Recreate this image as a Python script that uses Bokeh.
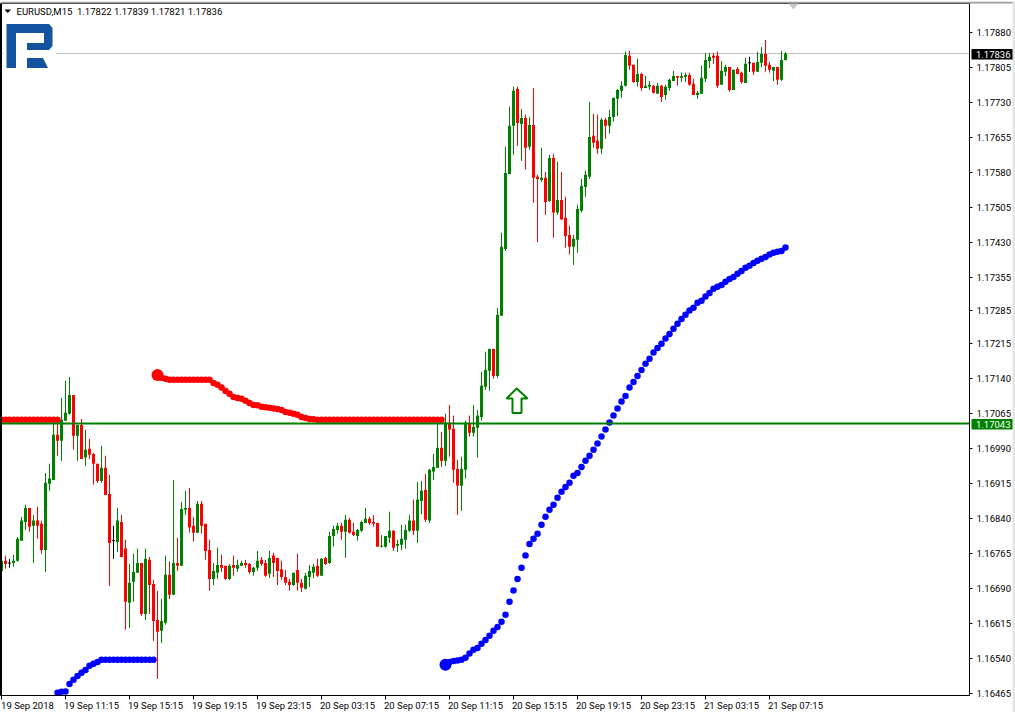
import numpy as np
from bokeh.plotting import figure
from bokeh.layouts import column
from bokeh.core.properties import value
from bokeh.models import (ColumnDataSource, Range1d, FixedTicker, Span, Label,
                          PolyAnnotation, PrintfTickFormatter)
from bokeh.embed import file_html
from bokeh.resources import INLINE

# Prices in points (1e-5)
opens = [116727,116749,116744,116744,116749,116792,116832,116862,116824,116835,
116828,116772,116914,116922,117019,117006,117049,117064,117104,117017,
117040,116970,116989,116978,116957,116920,116948,116892,116792,116789,
116832,116775,116659,116704,116723,116744,116635,116751,116699,116622,
116599,116616,116719,116676,116744,116738,116858,116862,116824,116809,
116871,116828,116772,116710,116723,116740,116738,116710,116740,116732,
116738,116744,116742,116725,116734,116751,116744,116721,116760,116755,
116731,116714,116704,116697,116729,116702,116689,116714,116723,116738,
116717,116755,116744,116802,116815,116824,116811,116837,116811,116802,
116813,116830,116839,116832,116830,116779,116779,116798,116813,116781,
116783,116794,116813,116835,116813,116877,116901,116835,116940,116948,
116991,116963,117045,117032,116946,116910,116944,117042,117023,117034,
117057,117122,117156,117203,117145,117274,117417,117578,117681,117760,
117685,117698,117636,117683,117572,117565,117570,117520,117612,117495,
117522,117484,117447,117422,117437,117499,117550,117572,117660,117649,
117632,117694,117681,117700,117739,117756,117767,117831,117812,117775,
117792,117762,117765,117767,117750,117767,117747,117762,117777,117788,
117784,117786,117790,117771,117747,117750,117782,117820,117831,117831,
117769,117797,117807,117758,117803,117795,117773,117816,117816,117797,
117816,117835,117812,117799,117807,117780,117822]
highs = [116770,116760,116753,116762,116800,116843,116869,116862,116847,116865,
116835,116937,116957,117045,117042,117098,117135,117143,117104,117040,
117053,117030,117010,116980,116957,116995,116974,116933,116824,116862,
116847,116794,116742,116764,116775,116744,116775,116757,116708,116684,
116667,116760,116747,116922,116798,116875,116899,116905,116843,116877,
116877,116828,116794,116744,116777,116762,116738,116742,116760,116751,
116749,116751,116744,116736,116770,116757,116751,116770,116766,116755,
116749,116729,116710,116723,116764,116710,116723,116740,116742,116753,
116755,116757,116811,116824,116830,116830,116847,116841,116830,116817,
116835,116862,116843,116847,116830,116804,116802,116854,116815,116794,
116826,116826,116847,116880,116918,116920,116935,116946,116978,117045,
117025,117064,117083,117060,116965,116972,117049,117060,117083,117072,
117154,117197,117203,117203,117291,117452,117636,117722,117765,117765,
117717,117705,117700,117762,117576,117634,117582,117619,117621,117604,
117582,117529,117467,117447,117512,117567,117585,117732,117707,117705,
117698,117698,117715,117741,117760,117777,117840,117842,117812,117825,
117795,117788,117777,117769,117773,117769,117769,117782,117799,117788,
117795,117795,117795,117782,117756,117810,117837,117837,117837,117840,
117820,117812,117807,117801,117807,117797,117827,117829,117816,117840,
117850,117865,117818,117807,117807,117842,117839]
lows = [116721,116732,116734,116736,116747,116792,116815,116811,116744,116796,
116764,116725,116899,116922,116974,116963,117049,117062,116987,116963,
116967,116952,116967,116912,116916,116916,116890,116695,116753,116768,
116757,116601,116605,116661,116723,116631,116622,116635,116577,116496,
116573,116612,116667,116676,116727,116738,116847,116809,116790,116809,
116807,116751,116685,116697,116710,116725,116708,116708,116717,116725,
116738,116734,116721,116717,116727,116738,116714,116712,116714,116697,
116708,116697,116685,116695,116685,116682,116687,116693,116712,116714,
116717,116740,116742,116779,116807,116794,116755,116807,116802,116792,
116811,116830,116826,116822,116779,116777,116777,116787,116770,116768,
116772,116775,116811,116804,116787,116849,116832,116830,116922,116948,
116950,116952,116972,116916,116847,116856,116925,117015,117015,116970,
117049,117115,117113,117139,117141,117274,117413,117578,117619,117638,
117606,117587,117630,117516,117432,117561,117490,117518,117441,117490,
117480,117420,117405,117383,117409,117495,117529,117567,117634,117621,
117621,117653,117664,117690,117702,117741,117765,117801,117773,117765,
117756,117762,117758,117750,117750,117732,117737,117756,117777,117767,
117775,117775,117767,117747,117739,117750,117775,117805,117814,117762,
117769,117788,117754,117758,117792,117771,117773,117797,117790,117797,
117807,117797,117795,117777,117769,117777,117821]
closes = [116749,116742,116744,116749,116796,116835,116862,116822,116835,116824,
116772,116916,116925,117019,117006,117051,117066,117104,117017,117040,
116967,116987,116976,116957,116920,116948,116890,116787,116792,116835,
116757,116661,116702,116725,116744,116635,116753,116697,116620,116597,
116620,116719,116676,116744,116738,116860,116862,116820,116809,116871,
116824,116770,116710,116727,116740,116734,116710,116738,116734,116740,
116744,116740,116725,116734,116749,116742,116717,116755,116744,116727,
116714,116702,116697,116723,116702,116691,116717,116727,116736,116717,
116753,116742,116802,116817,116824,116811,116837,116809,116804,116815,
116832,116839,116830,116828,116779,116781,116802,116813,116777,116785,
116796,116815,116835,116813,116880,116899,116837,116944,116950,116991,
116963,117045,117030,116944,116910,116946,117045,117023,117036,117060,
117124,117158,117203,117145,117276,117422,117580,117681,117756,117687,
117698,117634,117683,117570,117567,117570,117518,117612,117495,117522,
117480,117445,117422,117439,117503,117552,117576,117657,117645,117632,
117694,117681,117700,117741,117758,117767,117833,117810,117775,117792,
117762,117767,117769,117752,117767,117743,117765,117780,117788,117784,
117788,117790,117769,117747,117752,117784,117822,117829,117827,117767,
117799,117807,117758,117801,117792,117775,117814,117816,117797,117818,
117835,117810,117801,117807,117780,117822,117836]

# Indicator readings: bar index and level (points)
red_bars = list(range(0, 15)) + list(range(40, 111))
red_vals = [117051]*15 + [117141,117139] + [117137]*11 + [
117130,117126,117120,117113,117107,117100,117098,117096,117092,117087,117083,117082,
117079,117078,117077,117075,117074,117072,117068,117066,117064,117062,117057,117055,
117053,117052] + [117051]*32
red_start = (39, 117147)

blue_left_bars = list(range(14, 39))
blue_left_vals = [116466,116468,116469,116485,116494,116502,116509,116515,116524,116528,116532] + [116537]*14
blue_start = (111, 116526)
blue_right_bars = list(range(112, 197))
blue_right_vals = [116532,116534,116535,116537,116541,116550,116558,116562,116571,116579,
116588,116599,116607,116618,116633,116661,116685,116710,116734,116760,
116785,116796,116807,116826,116843,116858,116869,116884,116897,116907,
116916,116931,116937,116950,116963,116974,116987,117000,117015,117030,
117045,117060,117075,117090,117102,117120,117132,117145,117158,117171,
117182,117195,117205,117214,117225,117235,117246,117257,117267,117276,
117285,117291,117302,117306,117315,117323,117332,117336,117340,117347,
117353,117357,117364,117370,117377,117381,117387,117392,117396,117400,
117405,117409,117411,117413,117420]

price_ticks = [1.17880,1.17805,1.17730,1.17655,1.17580,1.17505,1.17430,1.17355,1.17285,1.17215,
               1.17140,1.17065,1.16990,1.16915,1.16840,1.16765,1.16690,1.16615,1.16540,1.16465]
time_ticks = [0,16,32,48,64,80,96,112,128,144,160,176,192]
time_labels = ["19 Sep 2018","19 Sep 11:15","19 Sep 15:15","19 Sep 19:15","19 Sep 23:15",
               "20 Sep 03:15","20 Sep 07:15","20 Sep 11:15","20 Sep 15:15","20 Sep 19:15",
               "20 Sep 23:15","21 Sep 03:15","21 Sep 07:15"]
last_price = 1.17836
level_price = 1.17043
title_text = "EURUSD,M15\u00a0\u00a01.17822 1.17839 1.17821 1.17836"

GREEN, RED, BLUE = "#008000", "#ff0000", "#0000ff"
FONT = "Roboto"
FS = "9.5px"
FRAME_BOTTOM = 695
X0, X1 = -0.25, 242.0
PRICE_PER_PX = 2.143e-5
SHEET_TOP = 1.1794958
SHEET_BOTTOM = 1.1642375

o, h, l, c = [np.array(a) / 1e5 for a in (opens, highs, lows, closes)]
idx = np.arange(len(o))
cols = np.where(c > o, GREEN, np.where(c < o, RED, "#000000"))
src = ColumnDataSource(dict(x=idx, l=l, h=h, col=cols, top=np.maximum(o, c), bot=np.minimum(o, c)))

p = figure(width=1015, height=712, frame_width=969, frame_height=692, output_backend="svg", toolbar_location=None,
           x_range=Range1d(X0, X1), y_range=Range1d(1.1646020, 1.1794315),
           y_axis_location="right", min_border_left=0, min_border_right=46,
           min_border_top=3, min_border_bottom=17, background_fill_color="white",
           border_fill_color="white", outline_line_color="#000000", outline_line_width=1)
p.grid.visible = False

ya = p.yaxis[0]
ya.ticker = FixedTicker(ticks=price_ticks)
ya.formatter = PrintfTickFormatter(format="%.5f")
ya.major_tick_in = 0; ya.major_tick_out = 3; ya.minor_tick_line_color = None
ya.major_label_text_font = FONT; ya.major_label_text_font_size = FS
ya.major_label_text_color = "#000000"; ya.major_label_standoff = 4
ya.axis_line_color = "#000000"; ya.major_tick_line_color = "#000000"

# time labels start at their tick: major ticks carry the labels, minor ticks draw the marks
xa = p.xaxis[0]
label_pos = [t + 6.5 for t in time_ticks]
xa.ticker = FixedTicker(ticks=label_pos, minor_ticks=time_ticks)
xa.major_label_overrides = dict(zip(label_pos, time_labels))
xa.major_tick_in = 0; xa.major_tick_out = 0; xa.major_tick_line_color = None
xa.minor_tick_in = 0; xa.minor_tick_out = 4; xa.minor_tick_line_color = "#000000"
xa.major_label_text_font = FONT; xa.major_label_text_font_size = FS
xa.major_label_text_color = "#000000"; xa.major_label_standoff = 0
xa.axis_line_color = "#000000"

p.add_layout(Span(location=last_price, dimension="width", line_color="#c0c0c0", line_width=1, level="underlay"))

p.segment("x", "l", "x", "h", source=src, line_color="col", line_width=1)
p.vbar("x", top="top", bottom="bot", width=0.75, source=src, fill_color="col", line_color=None)
flat = c == o
p.segment(idx[flat] - 0.375, o[flat], idx[flat] + 0.375, o[flat], line_color="#000000", line_width=1)

p.scatter(red_bars, np.array(red_vals) / 1e5, size=6.5, marker="circle", fill_color=RED, line_color=None)
p.scatter([red_start[0]], [red_start[1] / 1e5], size=12, marker="circle", fill_color=RED, line_color=None)
p.scatter(blue_left_bars, np.array(blue_left_vals) / 1e5, size=6.5, marker="circle", fill_color=BLUE, line_color=None)
p.scatter(blue_right_bars, np.array(blue_right_vals) / 1e5, size=6.5, marker="circle", fill_color=BLUE, line_color=None)
p.scatter([blue_start[0]], [blue_start[1] / 1e5], size=12, marker="circle", fill_color=BLUE, line_color=None)

p.segment([X0], [level_price], [X1], [level_price], line_color=GREEN, line_width=2)

def poly(xs, ys, fill, line=None, lw=1):
    # picture coordinates (from top-left) -> annotation screen units (frame bottom-up)
    p.add_layout(PolyAnnotation(xs=[x - 0.5 for x in xs], ys=[FRAME_BOTTOM + 0.5 - y for y in ys],
                                xs_units="screen", ys_units="screen",
                                fill_color=fill, fill_alpha=1, line_color=line, line_width=lw, line_alpha=1))

poly([3, 56, 56, 3], [22, 22, 70, 70], "#ffffff")
LOGO = "#14539f"
poly([6.5, 49, 52.5, 52.5, 49, 27, 27, 44, 44, 16, 16, 6.5],
     [24, 24, 28, 46, 50, 50, 43, 43, 33, 33, 68, 68], LOGO)
poly([27, 43, 48, 27], [58, 58, 68, 68], LOGO)

poly([516.7, 527.5, 521.5, 521.5, 512.5, 512.5, 506.5], [388.5, 398.5, 398.5, 413, 413, 398.5, 398.5],
     "#ffffff", GREEN, 2)

poly([4.5, 11, 7.75], [9.5, 9.5, 13], "#000000")
poly([0, 2, 2, 0], [3, 3, 696, 696], "#000000")

p.add_layout(Label(x=3.75, y=1.17927, text=title_text, text_color="#000000", text_font=FONT, text_font_size=FS,
                   text_baseline="middle", text_align="left"))

# transparent sheet over the whole picture for what sits on the axis strip: window edges and price tags
sheet = figure(width=1015, height=712, frame_width=1015, frame_height=712, output_backend="svg", toolbar_location=None,
               x_range=Range1d(-0.5, 1014.5), y_range=Range1d(SHEET_BOTTOM, SHEET_TOP),
               x_axis_location=None, y_axis_location=None, min_border=0,
               background_fill_color=None, border_fill_color=None, outline_line_color=None)
sheet.grid.visible = False
sheet.margin = (-712, 0, 0, 0)
sheet.quad(left=[-0.5], right=[1014.5], top=[SHEET_TOP], bottom=[SHEET_TOP - 2 * PRICE_PER_PX], fill_color="#a0a0a0", line_color=None)
sheet.quad(left=[1011.5], right=[1014.5], top=[SHEET_TOP], bottom=[SHEET_BOTTOM], fill_color="#e4e4e4", line_color=None)
sheet.patch([787.5, 797.5, 792.5], [SHEET_TOP - 2 * PRICE_PER_PX, SHEET_TOP - 2 * PRICE_PER_PX, SHEET_TOP - 8 * PRICE_PER_PX],
            fill_color="#c8c8c8", line_color=None)
tag_prices = [last_price, level_price]
tag_fills = ["#000000", GREEN]
sheet.quad(left=[970.5, 970.5], right=[1011.5, 1011.5],
           top=[v + 5.5 * PRICE_PER_PX for v in tag_prices], bottom=[v - 5 * PRICE_PER_PX for v in tag_prices],
           fill_color=tag_fills, line_color=None)
sheet.text(x=[975, 975], y=tag_prices, text=[f"{v:.5f}" for v in tag_prices], text_color="#ffffff",
           text_font=value(FONT), text_font_size=value(FS), text_baseline="middle", text_align="left")

open("out.html", "w").write(file_html(column(p, sheet), INLINE))
